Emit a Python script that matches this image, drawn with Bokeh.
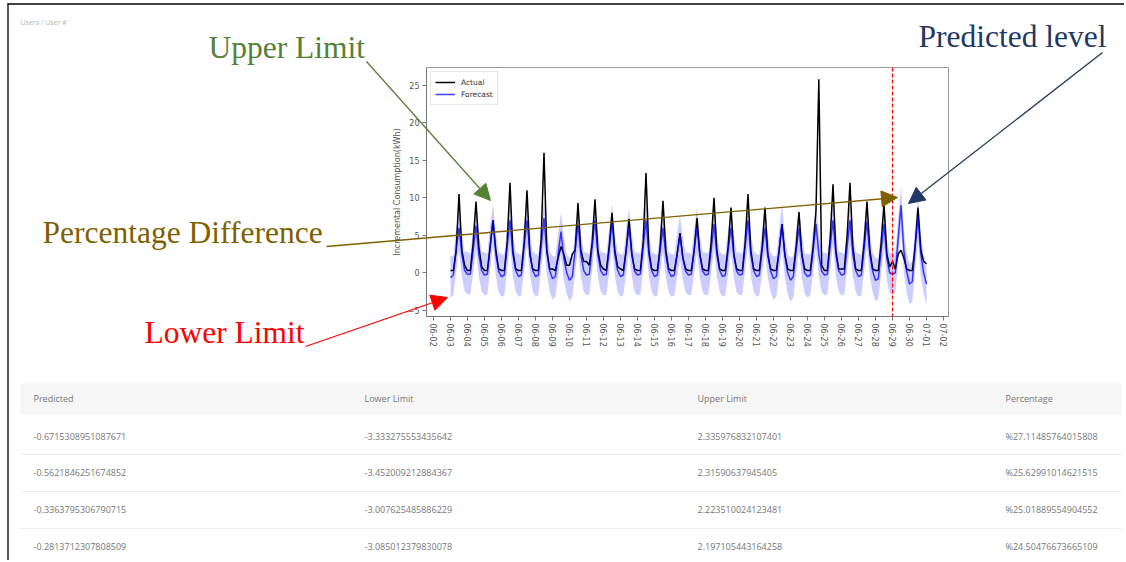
import pandas as pd
from bokeh.plotting import figure
from bokeh.core.properties import value
from bokeh.models import (Range1d, FixedTicker, DaysTicker, DatetimeTickFormatter,
                          Label, LabelSet, Arrow, NormalHead, BoxAnnotation,
                          ColumnDataSource, Span, Column)
from bokeh.embed import file_html
from bokeh.resources import INLINE

# ------------------------------------------------------------------ data
series_start = "2023-06-03 00:00"     # 4-hourly samples
series_step = "4h"

actual = [
    0.3, 0.3, 3.0, 10.5, 3.0, 1.0,    # 06-03
    0.3, 0.3, 4.0, 9.5, 3.5, 0.8,     # 06-04
    0.3, 0.3, 3.5, 7.0, 3.0, 0.5,     # 06-05
    0.3, 0.3, 4.0, 12.0, 3.0, 0.5,    # 06-06
    0.3, 0.3, 4.0, 11.0, 2.5, 0.5,    # 06-07
    0.3, 0.3, 4.5, 16.0, 3.0, 0.5,    # 06-08
    0.5, 0.3, 2.0, 3.5, 2.5, 1.0,     # 06-09
    1.0, 2.5, 3.0, 9.3, 3.0, 1.5,     # 06-10
    1.5, 1.0, 4.0, 9.8, 3.0, 1.0,     # 06-11
    0.5, 0.3, 3.5, 8.0, 3.0, 0.8,     # 06-12
    0.5, 0.3, 3.0, 7.2, 2.5, 0.5,     # 06-13
    0.3, 0.3, 4.0, 13.3, 3.0, 0.5,    # 06-14
    0.3, 0.3, 3.5, 9.6, 3.0, 0.5,     # 06-15
    0.3, 0.3, 2.5, 5.3, 2.0, 0.5,     # 06-16
    0.3, 0.3, 3.0, 7.3, 2.5, 0.5,     # 06-17
    0.3, 0.3, 4.0, 10.0, 3.0, 0.5,    # 06-18
    0.3, 0.3, 3.5, 8.7, 2.5, 0.5,     # 06-19
    0.3, 0.3, 4.0, 10.5, 3.0, 0.5,    # 06-20
    0.3, 0.3, 3.5, 8.7, 2.5, 0.5,     # 06-21
    0.3, 0.3, 3.0, 6.5, 2.5, 0.5,     # 06-22
    0.3, 0.3, 3.5, 8.1, 2.5, 0.5,     # 06-23
    0.3, 0.3, 3.5, 8.3, 25.8, 1.0,    # 06-24
    0.3, 0.3, 4.5, 11.8, 3.0, 0.5,    # 06-25
    0.5, 0.5, 5.0, 12.0, 3.5, 0.5,    # 06-26
    0.3, 0.3, 4.0, 9.5, 3.0, 0.5,     # 06-27
    0.3, 0.3, 4.0, 9.2, 2.5, 0.8,     # 06-28
    1.5, 0.5, 2.5, 3.0, 2.0, 0.5,     # 06-29
    0.3, 0.3, 3.5, 8.7, 3.0, 1.5,     # 06-30
    1.2,                              # 07-01
]

forecast = [
    -0.67, -0.3, 3.0, 6.0, 2.5, 0.3,  # 06-03
    -0.2, -0.2, 3.0, 6.3, 2.5, 0.3,   # 06-04
    -0.3, -0.2, 3.5, 7.0, 2.5, 0.2,   # 06-05
    -0.5, -0.3, 3.5, 7.0, 2.5, 0.3,   # 06-06
    -0.5, -0.3, 3.5, 7.0, 2.8, 0.3,   # 06-07
    -0.5, -0.3, 3.5, 7.3, 2.8, 0.3,   # 06-08
    -0.8, -0.5, 2.5, 5.5, 2.0, 0.0,   # 06-09
    -1.0, -0.5, 3.0, 6.5, 2.5, 0.3,   # 06-10
    -0.3, -0.2, 3.5, 7.0, 2.5, 0.3,   # 06-11
    -0.3, -0.2, 3.0, 6.8, 2.5, 0.3,   # 06-12
    -0.5, -0.3, 3.0, 6.0, 2.5, 0.2,   # 06-13
    -0.3, -0.2, 3.5, 7.0, 2.5, 0.3,   # 06-14
    -0.5, -0.3, 3.0, 6.0, 2.3, 0.2,   # 06-15
    -0.5, -0.3, 2.5, 5.0, 2.0, 0.2,   # 06-16
    -0.3, -0.2, 3.0, 6.0, 2.3, 0.2,   # 06-17
    -0.3, -0.2, 3.0, 6.5, 2.5, 0.3,   # 06-18
    -0.5, -0.3, 3.0, 6.0, 2.3, 0.2,   # 06-19
    -0.3, -0.2, 3.5, 7.0, 2.5, 0.3,   # 06-20
    -0.5, -0.3, 3.0, 6.0, 2.3, 0.2,   # 06-21
    -0.8, -0.5, 3.0, 6.5, 2.3, 0.0,   # 06-22
    -1.0, -0.5, 3.0, 6.0, 2.3, 0.0,   # 06-23
    -0.5, -0.3, 3.0, 6.5, 2.5, 0.2,   # 06-24
    -0.3, -0.2, 3.5, 7.0, 2.5, 0.3,   # 06-25
    -0.3, -0.2, 3.5, 7.0, 2.5, 0.3,   # 06-26
    -0.5, -0.3, 3.3, 6.8, 2.5, 0.2,   # 06-27
    -1.0, -0.8, 3.0, 6.5, 2.0, 0.0,   # 06-28
    -0.2, 0.0, 4.5, 9.0, 3.0, 0.2,    # 06-29
    -1.5, -1.2, 3.5, 7.5, 2.5, 0.0,   # 06-30
    -1.5,                             # 07-01
]

lower = [
    -3.33, -3.0, 0.2, 3.0, -0.4, -2.5,   # 06-03
    -2.9, -2.9, 0.0, 3.2, -0.5, -2.5,    # 06-04
    -3.0, -2.9, 0.5, 3.8, -0.5, -2.6,    # 06-05
    -3.2, -3.0, 0.5, 3.8, -0.5, -2.5,    # 06-06
    -3.2, -3.0, 0.5, 3.8, -0.2, -2.5,    # 06-07
    -3.2, -3.0, 0.5, 4.1, -0.2, -2.5,    # 06-08
    -3.6, -3.2, -0.5, 2.5, -1.0, -2.8,   # 06-09
    -3.8, -3.2, 0.0, 3.3, -0.5, -2.5,    # 06-10
    -3.0, -2.9, 0.5, 3.8, -0.5, -2.5,    # 06-11
    -3.0, -2.9, 0.0, 3.6, -0.5, -2.5,    # 06-12
    -3.2, -3.0, 0.0, 2.8, -0.5, -2.6,    # 06-13
    -3.0, -2.9, 0.5, 3.8, -0.5, -2.5,    # 06-14
    -3.2, -3.0, 0.0, 2.8, -0.7, -2.6,    # 06-15
    -3.2, -3.0, -0.5, 1.8, -1.0, -2.6,   # 06-16
    -3.0, -2.9, 0.0, 2.8, -0.7, -2.6,    # 06-17
    -3.0, -2.9, 0.0, 3.3, -0.5, -2.5,    # 06-18
    -3.2, -3.0, 0.0, 2.8, -0.7, -2.6,    # 06-19
    -3.0, -2.9, 0.5, 3.8, -0.5, -2.5,    # 06-20
    -3.2, -3.0, 0.0, 2.8, -0.7, -2.6,    # 06-21
    -3.6, -3.2, 0.0, 3.3, -0.7, -2.8,    # 06-22
    -3.9, -3.3, 0.0, 2.8, -0.7, -2.8,    # 06-23
    -3.3, -3.0, 0.0, 3.3, -0.5, -2.6,    # 06-24
    -3.0, -2.9, 0.5, 3.8, -0.5, -2.5,    # 06-25
    -3.0, -2.9, 0.5, 3.8, -0.5, -2.5,    # 06-26
    -3.2, -3.0, 0.3, 3.6, -0.5, -2.6,    # 06-27
    -3.8, -3.5, 0.0, 3.3, -1.0, -2.8,    # 06-28
    -2.9, -2.7, 1.5, 5.8, 0.0, -2.6,     # 06-29
    -4.2, -3.9, 0.5, 4.3, -0.5, -2.8,    # 06-30
    -4.3,                                # 07-01
]

upper = [
    2.34, 2.2, 5.8, 8.8, 5.2, 2.8,    # 06-03
    2.8, 2.5, 5.8, 9.0, 5.2, 2.8,     # 06-04
    2.7, 2.5, 6.3, 9.2, 5.2, 2.7,     # 06-05
    2.5, 2.4, 6.3, 9.6, 5.2, 2.8,     # 06-06
    2.5, 2.4, 6.3, 9.6, 5.5, 2.8,     # 06-07
    2.5, 2.4, 6.3, 9.6, 5.5, 2.8,     # 06-08
    2.2, 2.2, 5.3, 8.0, 4.7, 2.5,     # 06-09
    2.0, 2.2, 5.8, 9.0, 5.2, 2.8,     # 06-10
    2.7, 2.5, 6.3, 9.4, 5.2, 2.8,     # 06-11
    2.7, 2.5, 5.8, 9.2, 5.2, 2.8,     # 06-12
    2.5, 2.4, 5.8, 8.6, 5.2, 2.7,     # 06-13
    2.7, 2.5, 6.3, 9.5, 5.2, 2.8,     # 06-14
    2.5, 2.4, 5.8, 8.6, 5.0, 2.7,     # 06-15
    2.5, 2.4, 5.3, 7.6, 4.7, 2.7,     # 06-16
    2.7, 2.5, 5.8, 8.8, 5.0, 2.7,     # 06-17
    2.7, 2.5, 5.8, 9.2, 5.2, 2.8,     # 06-18
    2.5, 2.4, 5.8, 8.8, 5.0, 2.7,     # 06-19
    2.7, 2.5, 6.3, 9.6, 5.2, 2.8,     # 06-20
    2.5, 2.4, 5.8, 8.8, 5.0, 2.7,     # 06-21
    2.2, 2.2, 5.8, 9.2, 5.0, 2.5,     # 06-22
    2.0, 2.2, 5.8, 8.8, 5.0, 2.5,     # 06-23
    2.5, 2.4, 5.8, 9.2, 5.2, 2.7,     # 06-24
    2.7, 2.5, 6.3, 9.6, 5.2, 2.8,     # 06-25
    2.7, 2.5, 6.3, 9.6, 5.2, 2.8,     # 06-26
    2.5, 2.4, 6.1, 9.6, 5.2, 2.7,     # 06-27
    2.0, 1.9, 5.8, 9.2, 4.7, 2.5,     # 06-28
    2.8, 2.7, 7.3, 11.5, 5.7, 2.7,    # 06-29
    1.2, 1.5, 6.3, 10.2, 5.2, 2.5,    # 06-30
    1.2,                              # 07-01
]

forecast_start_date = "2023-06-29 00:00"
y_ticks = [-5, 0, 5, 10, 15, 20, 25]
y_label = "Incremental Consumption(kWh)"
legend_labels = ["Actual", "Forecast"]

breadcrumb = "Users / User #"
callout_texts = ["Upper Limit", "Predicted level", "Percentage Difference", "Lower Limit"]

table_headers = ["Predicted", "Lower Limit", "Upper Limit", "Percentage"]
table_predicted = ["-0.6715308951087671", "-0.5621846251674852",
                   "-0.3363795306790715", "-0.2813712307808509"]
table_lower = ["-3.333275553435642", "-3.452009212884367",
               "-3.007625485886229", "-3.085012379830078"]
table_upper = ["2.335976832107401", "2.31590637945405",
               "2.223510024123481", "2.197105443164258"]
table_percentage = ["%27.11485764015808", "%25.62991014621515",
                    "%25.01889554904552", "%24.50476673665109"]

# ------------------------------------------------------------------ chart
W, H = 1124, 560
FL, FT, FR, FB = 426, 67, 948, 316   # plot frame, page pixels

x0 = pd.Timestamp("2023-06-01 14:07")
x1 = pd.Timestamp("2023-07-02 07:04")
Y0, Y1 = -5.83, 27.37

times = pd.date_range(series_start, periods=len(actual), freq=series_step)
src = ColumnDataSource(dict(t=times, actual=actual, forecast=forecast,
                            lower=lower, upper=upper))

p = figure(width=W, height=H, x_axis_type="datetime",
           x_range=Range1d(x0, x1), y_range=Range1d(Y0, Y1),
           output_backend="svg", toolbar_location=None,
           min_border_left=FL, min_border_top=FT,
           min_border_right=W - FR, min_border_bottom=H - FB)
p.background_fill_color = "white"
p.border_fill_color = "white"
p.outline_line_color = "#9a9a9a"
p.grid.visible = False

p.varea(x="t", y1="lower", y2="upper", source=src,
        fill_color="blue", fill_alpha=0.2)
p.line("t", "actual", source=src, line_color="black", line_width=1.5,
       legend_label=legend_labels[0])
p.line("t", "forecast", source=src, line_color="blue", line_width=1.5,
       line_alpha=0.75, legend_label=legend_labels[1])

p.add_layout(Span(location=pd.Timestamp(forecast_start_date).value / 1e6,
                  dimension="height", line_color="red", line_dash="4 2",
                  line_width=1.2))

p.xaxis.ticker = DaysTicker(days=list(range(1, 32)))
p.xaxis.formatter = DatetimeTickFormatter(days="%m-%d", months="%m-%d",
                                          hours="%m-%d")
p.xaxis.major_label_orientation = "vertical"
p.yaxis.ticker = FixedTicker(ticks=y_ticks)
p.yaxis.axis_label = y_label
for ax in (p.xaxis, p.yaxis):
    ax.major_label_text_font = "DejaVu Sans"
    ax.major_label_text_font_size = "8px"
    ax.major_label_text_color = "#555555"
    ax.axis_line_color = "#777777"
    ax.major_tick_line_color = "#777777"
    ax.major_tick_in = 0
    ax.major_tick_out = 4
    ax.minor_tick_line_color = None
    ax.major_label_standoff = 3
p.yaxis.axis_label_text_font = "DejaVu Sans"
p.yaxis.axis_label_text_font_size = "8px"
p.yaxis.axis_label_text_font_style = "normal"
p.yaxis.axis_label_text_color = "#555555"
p.yaxis.axis_label_standoff = 3

p.legend.location = "top_left"
p.legend.margin = 4
p.legend.padding = 4
p.legend.spacing = 0
p.legend.glyph_width = 20
p.legend.glyph_height = 12
p.legend.label_height = 12
p.legend.label_standoff = 6
p.legend.label_text_font = "DejaVu Sans"
p.legend.label_text_font_size = "7.5px"
p.legend.label_text_color = "#333333"
p.legend.border_line_color = "#d0d0d0"
p.legend.background_fill_alpha = 0.85

# ------------------------------------------------------------------ page overlay
# a transparent, axis-less figure whose frame spans the whole page, laid over
# the chart, so that page texts, call-out arrows and the table can sit anywhere
o = figure(width=W, height=H, x_range=Range1d(0, W), y_range=Range1d(H, 0),
           output_backend="svg", toolbar_location=None,
           x_axis_location=None, y_axis_location=None)
o.min_border = 0
o.grid.visible = False
o.outline_line_color = None
o.background_fill_alpha = 0
o.border_fill_alpha = 0

# page border (left and top)
o.add_layout(Arrow(end=None, x_start=7.5, y_start=3, x_end=7.5, y_end=H,
                   line_color="black", line_width=1.3))
o.add_layout(Arrow(end=None, x_start=7, y_start=3.5, x_end=W, y_end=3.5,
                   line_color="black", line_width=1.3))

o.add_layout(Label(x=20, y=22, text=breadcrumb, text_font="Open Sans",
                   text_font_size="7px", text_color="#b5b5b5",
                   text_baseline="middle"))

callouts = [
    # text, colour, (text x, text centre y), (arrow start), (arrow tip)
    (callout_texts[0], "#548235", (208, 47), (366, 61), (490, 200)),
    (callout_texts[1], "#1F3864", (918, 36), (1102, 52), (908, 203)),
    (callout_texts[2], "#7F6000", (42, 232), (326, 246), (897, 197)),
    (callout_texts[3], "#FF0000", (144, 332), (305, 346), (447, 297)),
]
for txt, col, (tx, ty), (sx, sy), (ex, ey) in callouts:
    o.add_layout(Label(x=tx, y=ty, text=txt,
                       text_font="Liberation Serif", text_font_size="31.5px",
                       text_color=col, text_baseline="middle"))
    o.add_layout(Arrow(end=NormalHead(size=16, fill_color=col, line_color=col),
                       x_start=sx, y_start=sy, x_end=ex, y_end=ey,
                       line_color=col, line_width=1.3))

# table
o.add_layout(BoxAnnotation(left=20, right=1121, top=383, bottom=414,
                           fill_color="#f6f6f6", fill_alpha=1.0, line_color=None))
for ysep in (454, 491, 528):
    o.add_layout(Arrow(end=None, x_start=20, y_start=ysep, x_end=1121, y_end=ysep,
                       line_color="#ececec", line_width=1))

col_x = [33, 364, 697, 1005]
row_y = [398, 436, 472, 509, 546]
columns = [table_predicted, table_lower, table_upper, table_percentage]
cx, cy, ct = [], [], []
for ci, head in enumerate(table_headers):
    for ri, cell in enumerate([head] + columns[ci]):
        cx.append(col_x[ci])
        cy.append(row_y[ri])
        ct.append(cell)
o.add_layout(LabelSet(x="x", y="y", text="text",
                      source=ColumnDataSource(dict(x=cx, y=cy, text=ct)),
                      text_font=value("Open Sans"), text_font_size=value("9px"),
                      text_color="#777777", text_baseline="middle"))

overlay = Column(children=[o],
                 styles={"position": "absolute", "top": "0px", "left": "0px"})
root = Column(children=[p, overlay])

open("out.html", "w").write(file_html(root, INLINE))
